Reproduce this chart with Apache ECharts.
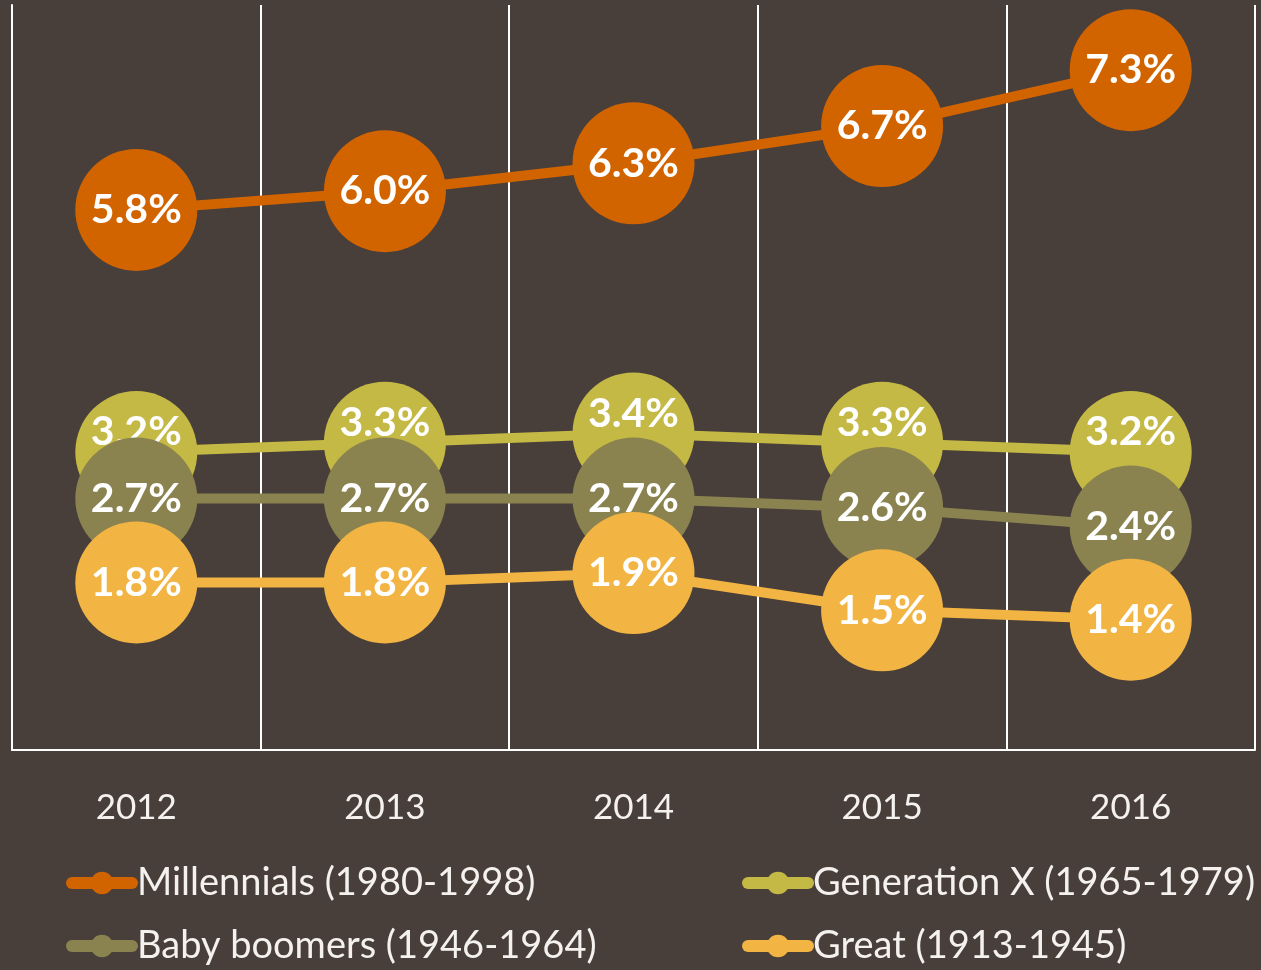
<!DOCTYPE html>
<html>
<head>
<meta charset="utf-8">
<script src="https://cdn.jsdelivr.net/npm/echarts@6/dist/echarts.min.js"></script>
<style>
  html, body { margin: 0; padding: 0; background: #483e3a; }
  #chart { width: 1261px; height: 970px; }
</style>
</head>
<body>
<div id="chart"></div>
<script>
// share of each generation, 2012-2016
const years = ['2012', '2013', '2014', '2015', '2016']
const millennials = [5.8, 6.0, 6.3, 6.7, 7.3]
const genX = [3.2, 3.3, 3.4, 3.3, 3.2]
const boomers = [2.7, 2.7, 2.7, 2.6, 2.4]
const great = [1.8, 1.8, 1.9, 1.5, 1.4]

const names = ['Millennials (1980-1998)', 'Generation X (1965-1979)', 'Baby boomers (1946-1964)', 'Great (1913-1945)']
const colors = ['#d26400', '#c4b944', '#8a8350', '#f2b544']

const font = 'Lato'
const textColor = '#f4f1ee'

function makeSeries(name, data, color, z, offset) {
  return {
    name: name,
    type: 'line',
    data: data,
    z: z,
    symbol: 'circle',
    symbolSize: 122,
    itemStyle: { color: color },
    lineStyle: { color: color, width: 10 },
    label: {
      show: true,
      position: 'inside',
      offset: offset || [0, 0],
      formatter: p => p.value.toFixed(1) + '%',
      color: '#ffffff',
      fontFamily: font,
      fontWeight: 'bold',
      fontSize: 41
    },
    emphasis: { disabled: true }
  }
}

function makeLegend(items, left) {
  return {
    data: items,
    orient: 'vertical',
    left: left,
    top: 864,
    padding: 0,
    itemWidth: 60,
    itemHeight: 28,
    itemGap: 25,
    lineStyle: { width: 12, cap: 'round' },
    textStyle: { color: textColor, fontFamily: font, fontSize: 38 }
  }
}

let chart = echarts.init(document.getElementById('chart'))
let options = {
  backgroundColor: '#483e3a',
  animation: false,
  grid: { left: 12, right: 6, top: 5, bottom: 220 },
  xAxis: {
    type: 'category',
    data: years,
    boundaryGap: true,
    axisLine: { show: true, lineStyle: { color: '#ffffff', width: 2 } },
    axisTick: { show: false },
    splitLine: { show: true, lineStyle: { color: '#ffffff', width: 2 } },
    axisLabel: { color: textColor, fontFamily: font, fontSize: 35, margin: 40 }
  },
  yAxis: {
    type: 'value',
    min: 0,
    max: 8,
    axisLine: { show: true, lineStyle: { color: '#ffffff', width: 2 } },
    axisLabel: { show: false },
    axisTick: { show: false },
    splitLine: { show: false }
  },
  legend: [
    makeLegend([names[0], names[2]], 66),
    makeLegend([names[1], names[3]], 742)
  ],
  series: [
    makeSeries(names[0], millennials, colors[0], 2),
    makeSeries(names[1], genX, colors[1], 3, [0, -20]),
    makeSeries(names[2], boomers, colors[2], 4),
    makeSeries(names[3], great, colors[3], 5)
  ]
}
chart.setOption(options)
</script>
</body>
</html>
